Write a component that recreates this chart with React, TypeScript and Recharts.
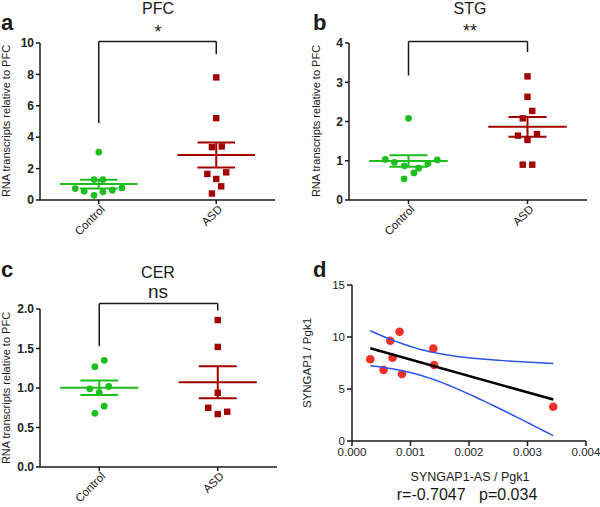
import React from 'react';
import { ScatterChart, Scatter, XAxis, YAxis, ReferenceLine } from 'recharts';

// ---------- data ----------
const groups = ['Control', 'ASD'];

const pfcControl = [3.05, 1.3, 1.3, 0.73, 0.56, 0.3, 0.52, 0.62, 0.77];
const pfcControlJitter = [0, -0.04, 0.036, -0.2, -0.124, -0.04, 0.036, 0.116, 0.197];
const pfcASD = [7.81, 5.21, 3.37, 3.41, 1.66, 1.76, 1.34, 0.87, 0.41];
const pfcASDJitter = [0, 0, -0.037, 0.047, -0.076, 0.085, 0, 0.042, -0.037];
const pfcTicks = [0, 2, 4, 6, 8, 10];
const pfcBracket = [4.9, 10.1, 9.3];

const stgControl = [2.08, 1.035, 0.96, 0.87, 0.54, 0.69, 0.81, 0.93, 1.02];
const stgControlJitter = [0, -0.195, -0.118, -0.034, -0.037, 0.045, 0.085, 0.163, 0.242];
const stgASD = [3.15, 2.63, 2.27, 2.08, 1.64, 1.53, 1.68, 0.9, 0.9];
const stgASDJitter = [0, 0, 0.04, -0.04, -0.08, 0, 0.08, -0.04, 0.04];
const stgTicks = [0, 1, 2, 3, 4];
const stgBracket = [3.17, 4.04, 3.77];

const cerControl = [1.27, 1.35, 0.99, 1.02, 0.94, 0.77, 0.68];
const cerControlJitter = [-0.037, 0.042, -0.08, 0.08, 0, 0.042, -0.037];
const cerASD = [1.86, 1.52, 0.94, 0.75, 0.67, 0.7];
const cerASDJitter = [0, 0, 0, -0.08, 0, 0.08];
const cerTicks = [0, 0.5, 1, 1.5, 2];
const cerBracket = [1.53, 2.07, 1.98];

const corrX = [0.000312, 0.00054, 0.000654, 0.000693, 0.000813, 0.000854, 0.00139, 0.001405, 0.00344];
const corrY = [7.86, 6.83, 9.64, 8.01, 10.51, 6.44, 8.88, 7.31, 3.3];
const corrXTicks = [0, 0.001, 0.002, 0.003, 0.004];
const corrYTicks = [0, 5, 10, 15];

// ---------- style ----------
const FONT = '"Liberation Sans", Arial, sans-serif';
const GREEN = '#1DBE1D';
const DARKRED = '#A30000';
const DOT_RED = '#F2302A';
const BLUE = '#2A55E8';
const AXIS = '#1a1a1a';

const stats = (arr: number[]) => {
  const n = arr.length;
  const mean = arr.reduce((a, b) => a + b, 0) / n;
  const sd = Math.sqrt(arr.reduce((a, b) => a + (b - mean) ** 2, 0) / (n - 1));
  return { mean, sem: sd / Math.sqrt(n) };
};

const CatTick = (props: any) => {
  const { x, y, payload } = props;
  const label = groups[Math.round(payload.value) - 1];
  return (
    <g transform={`translate(${x + 4},${y + 1})`}>
      <text transform="rotate(-45)" textAnchor="end" dy="0.35em" fontSize={11.5} fill="#222" fontFamily={FONT}>
        {label}
      </text>
    </g>
  );
};

const Circle = (p: any) => <circle cx={p.cx} cy={p.cy} r={3.4} fill={GREEN} />;
const Square = (p: any) => <rect x={p.cx - 3.2} y={p.cy - 3.2} width={6.4} height={6.4} fill={DARKRED} />;

function GroupPanel(props: any) {
  const { left, top, width, height, margin, xHeight, yDomain, yTicks, digits, control, controlJitter, asd, asdJitter, bracket } = props;
  const cData = control.map((v: number, i: number) => ({ x: 1 + controlJitter[i], y: v }));
  const aData = asd.map((v: number, i: number) => ({ x: 2 + asdJitter[i], y: v }));
  const cs = stats(control);
  const as = stats(asd);
  const lines: any[] = [];
  const addGroup = (g: number, s: any, color: string, key: string) => {
    lines.push(<ReferenceLine key={key + 'm'} segment={[{ x: g - 0.33, y: s.mean }, { x: g + 0.33, y: s.mean }]} stroke={color} strokeWidth={2} ifOverflow="visible" />);
    lines.push(<ReferenceLine key={key + 'u'} segment={[{ x: g - 0.16, y: s.mean + s.sem }, { x: g + 0.16, y: s.mean + s.sem }]} stroke={color} strokeWidth={2} ifOverflow="visible" />);
    lines.push(<ReferenceLine key={key + 'l'} segment={[{ x: g - 0.16, y: s.mean - s.sem }, { x: g + 0.16, y: s.mean - s.sem }]} stroke={color} strokeWidth={2} ifOverflow="visible" />);
    lines.push(<ReferenceLine key={key + 'v'} segment={[{ x: g, y: s.mean - s.sem }, { x: g, y: s.mean + s.sem }]} stroke={color} strokeWidth={2} ifOverflow="visible" />);
  };
  addGroup(1, cs, GREEN, 'c');
  addGroup(2, as, DARKRED, 'a');
  const [b0, b1, b2] = bracket;
  return (
    <div style={{ position: 'absolute', left, top }}>
      <ScatterChart width={width} height={height} margin={margin}>
        <XAxis
          type="number"
          dataKey="x"
          domain={[0.5, 2.5]}
          ticks={[1, 2]}
          interval={0}
          allowDataOverflow
          height={xHeight}
          tick={(p: any) => <CatTick {...p} />}
          tickSize={4}
          axisLine={{ stroke: AXIS, strokeWidth: 1.5 }}
          tickLine={{ stroke: AXIS, strokeWidth: 1.5 }}
        />
        <YAxis
          type="number"
          dataKey="y"
          domain={yDomain}
          ticks={yTicks}
          interval={0}
          allowDataOverflow
          width={30}
          tickFormatter={(v: number) => v.toFixed(digits)}
          tick={{ fontSize: 12, fontWeight: 'bold', fill: '#222', fontFamily: FONT }}
          tickSize={4}
          tickMargin={2}
          axisLine={{ stroke: AXIS, strokeWidth: 1.5 }}
          tickLine={{ stroke: AXIS, strokeWidth: 1.5 }}
        />
        {lines}
        <ReferenceLine segment={[{ x: 1, y: b0 }, { x: 1, y: b1 }]} stroke={AXIS} strokeWidth={1.5} ifOverflow="visible" />
        <ReferenceLine segment={[{ x: 1, y: b1 }, { x: 2, y: b1 }]} stroke={AXIS} strokeWidth={1.5} ifOverflow="visible" />
        <ReferenceLine segment={[{ x: 2, y: b1 }, { x: 2, y: b2 }]} stroke={AXIS} strokeWidth={1.5} ifOverflow="visible" />
        <Scatter data={cData} shape={(p: any) => <Circle {...p} />} isAnimationActive={false} />
        <Scatter data={aData} shape={(p: any) => <Square {...p} />} isAnimationActive={false} />
      </ScatterChart>
    </div>
  );
}

function regression(xs: number[], ys: number[]) {
  const n = xs.length;
  const mx = xs.reduce((a, b) => a + b, 0) / n;
  const my = ys.reduce((a, b) => a + b, 0) / n;
  let sxx = 0, sxy = 0, syy = 0;
  for (let i = 0; i < n; i++) {
    sxx += (xs[i] - mx) ** 2;
    sxy += (xs[i] - mx) * (ys[i] - my);
    syy += (ys[i] - my) ** 2;
  }
  const slope = sxy / sxx;
  const intercept = my - slope * mx;
  const s = Math.sqrt((syy - slope * sxy) / (n - 2));
  const t = 2.365; // t(0.975, df=7)
  const lo = Math.min(...xs);
  const hi = Math.max(...xs);
  const fit: any[] = [], upper: any[] = [], lower: any[] = [];
  const steps = 40;
  for (let k = 0; k <= steps; k++) {
    const x = lo + ((hi - lo) * k) / steps;
    const yhat = intercept + slope * x;
    const hw = t * s * Math.sqrt(1 / n + (x - mx) ** 2 / sxx);
    fit.push({ x, y: yhat });
    upper.push({ x, y: yhat + hw });
    lower.push({ x, y: yhat - hw });
  }
  return { fit: [fit[0], fit[steps]], upper, lower };
}

function CorrPanel() {
  const pts = corrX.map((x, i) => ({ x, y: corrY[i] }));
  const { fit, upper, lower } = regression(corrX, corrY);
  const none = () => <g />;
  return (
    <div style={{ position: 'absolute', left: 300, top: 250 }}>
      <ScatterChart width={300} height={257} margin={{ top: 35, right: 14, bottom: 46, left: 22 }}>
        <XAxis
          type="number"
          dataKey="x"
          domain={[0, 0.004]}
          ticks={corrXTicks}
          interval={0}
          height={20}
          tickFormatter={(v: number) => v.toFixed(3)}
          tick={{ fontSize: 11.5, fill: '#222', fontFamily: FONT }}
          tickSize={5}
          tickMargin={2}
          axisLine={{ stroke: AXIS, strokeWidth: 1.5 }}
          tickLine={{ stroke: AXIS, strokeWidth: 1.5 }}
        />
        <YAxis
          type="number"
          dataKey="y"
          domain={[0, 15]}
          ticks={corrYTicks}
          interval={0}
          width={30}
          tick={{ fontSize: 11.5, fill: '#222', fontFamily: FONT }}
          tickSize={5}
          tickMargin={2}
          axisLine={{ stroke: AXIS, strokeWidth: 1.5 }}
          tickLine={{ stroke: AXIS, strokeWidth: 1.5 }}
        />
        <Scatter data={pts} shape={(p: any) => <circle cx={p.cx} cy={p.cy} r={4.3} fill={DOT_RED} />} isAnimationActive={false} />
        <Scatter data={upper} shape={none} line={{ stroke: BLUE, strokeWidth: 1.5 }} isAnimationActive={false} />
        <Scatter data={lower} shape={none} line={{ stroke: BLUE, strokeWidth: 1.5 }} isAnimationActive={false} />
        <Scatter data={fit} shape={none} line={{ stroke: '#000', strokeWidth: 2.5 }} isAnimationActive={false} />
      </ScatterChart>
    </div>
  );
}

const T = (p: any) => <text fontFamily={FONT} fill="#1a1a1a" {...p} />;

export default function App() {
  const ylab = 'RNA transcripts relative to PFC';
  return (
    <div style={{ position: 'absolute', left: 0, top: 0, width: 600, height: 507, background: '#fff', fontFamily: FONT }}>
      <GroupPanel
        left={0} top={0} width={300} height={250}
        margin={{ top: 43, right: 25, bottom: 0, left: 10 }} xHeight={50}
        yDomain={[0, 10]} yTicks={pfcTicks} digits={0}
        control={pfcControl} controlJitter={pfcControlJitter} asd={pfcASD} asdJitter={pfcASDJitter} bracket={pfcBracket}
      />
      <GroupPanel
        left={300} top={0} width={300} height={250}
        margin={{ top: 43, right: 13, bottom: 0, left: 19 }} xHeight={50}
        yDomain={[0, 4]} yTicks={stgTicks} digits={0}
        control={stgControl} controlJitter={stgControlJitter} asd={stgASD} asdJitter={stgASDJitter} bracket={stgBracket}
      />
      <GroupPanel
        left={0} top={250} width={300} height={257}
        margin={{ top: 59, right: 23, bottom: 0, left: 10 }} xHeight={40}
        yDomain={[0, 2]} yTicks={cerTicks} digits={1}
        control={cerControl} controlJitter={cerControlJitter} asd={cerASD} asdJitter={cerASDJitter} bracket={cerBracket}
      />
      <CorrPanel />
      <svg width={600} height={507} style={{ position: 'absolute', left: 0, top: 0, pointerEvents: 'none' }}>
        <T x={1} y={30} fontSize={22} fontWeight="bold">a</T>
        <T x={313} y={30} fontSize={22} fontWeight="bold">b</T>
        <T x={1} y={277} fontSize={22} fontWeight="bold">c</T>
        <T x={313} y={277} fontSize={22} fontWeight="bold">d</T>

        <T x={158} y={14} fontSize={16} textAnchor="middle">PFC</T>
        <T x={158} y={38} fontSize={18} textAnchor="middle">*</T>
        <T x={470} y={14} fontSize={16} textAnchor="middle">STG</T>
        <T x={470} y={37} fontSize={18} textAnchor="middle">**</T>
        <T x={158} y={278} fontSize={16} textAnchor="middle">CER</T>
        <T x={158} y={298} fontSize={19} textAnchor="middle">ns</T>

        <T x={10} y={121} fontSize={11} textAnchor="middle" transform="rotate(-90 10 121)">{ylab}</T>
        <T x={320} y={121} fontSize={11} textAnchor="middle" transform="rotate(-90 320 121)">{ylab}</T>
        <T x={10} y={388} fontSize={11} textAnchor="middle" transform="rotate(-90 10 388)">{ylab}</T>
        <T x={311} y={363} fontSize={11.5} textAnchor="middle" transform="rotate(-90 311 363)">SYNGAP1 / Pgk1</T>

        <T x={470} y={481} fontSize={12.5} textAnchor="middle">SYNGAP1-AS / Pgk1</T>
        <T x={467} y={500} fontSize={16} textAnchor="middle" style={{ whiteSpace: 'pre' }}>{'r=-0.7047   p=0.034'}</T>
      </svg>
    </div>
  );
}
